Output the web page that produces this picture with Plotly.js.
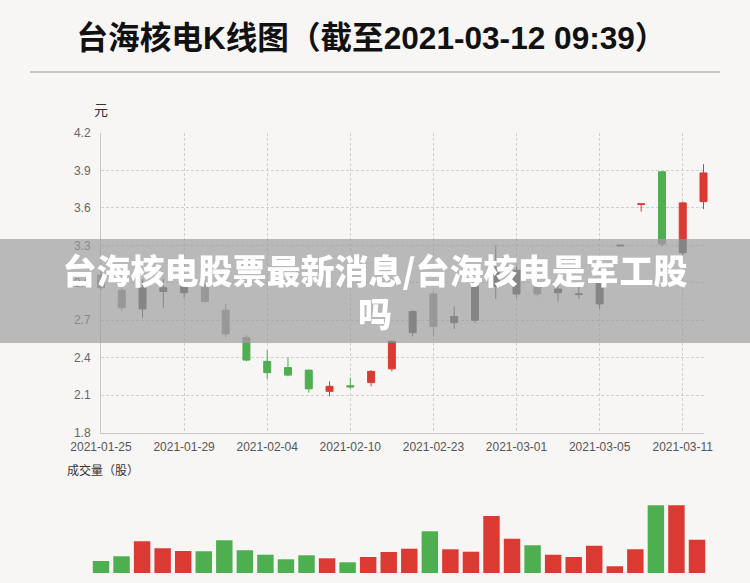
<!DOCTYPE html>
<html>
<head>
<meta charset="utf-8">
<script src="https://cdn.plot.ly/plotly-3.0.1.min.js"></script>
<style>
  html, body { margin:0; padding:0; background:#f8f5f5; }
  #wrap { position:relative; width:750px; height:583px; overflow:hidden; }
  #chart { position:absolute; left:0; top:0; width:750px; height:583px; }
  #band {
    position:absolute; left:0; top:239px; width:750px; height:104px;
    background:rgba(155,155,155,0.667);
    backdrop-filter:grayscale(1); -webkit-backdrop-filter:grayscale(1);
    display:flex; align-items:center; justify-content:center; text-align:center;
    color:#ffffff; font-family:'Noto Sans CJK SC', sans-serif; font-weight:900;
    font-size:34px; line-height:43px;
  }
</style>
</head>
<body>
<div id="wrap">
  <div id="chart"></div>
  <div id="band"></div>
</div>
<script>
// ---- data ----
const dates = ['2021-01-25','2021-01-26','2021-01-27','2021-01-28','2021-01-29',
  '2021-02-01','2021-02-02','2021-02-03','2021-02-04','2021-02-05',
  '2021-02-08','2021-02-09','2021-02-10','2021-02-18','2021-02-19',
  '2021-02-22','2021-02-23','2021-02-24','2021-02-25','2021-02-26',
  '2021-03-01','2021-03-02','2021-03-03','2021-03-04','2021-03-05',
  '2021-03-08','2021-03-09','2021-03-10','2021-03-11','2021-03-12'];
const openP  = [3.06,2.94,2.79,2.93,2.92,2.97,2.78,2.56,2.37,2.32,2.30,2.13,2.175,2.20,2.31,2.60,2.91,2.68,2.70,2.97,2.91,3.00,2.92,2.905,2.83,3.295,3.628,3.89,3.24,3.65];
const highP  = [3.10,2.96,3.03,3.03,3.02,3.02,2.83,2.58,2.46,2.40,2.30,2.21,2.24,2.30,2.53,2.78,2.93,2.81,3.02,3.30,3.13,3.02,2.99,2.98,3.02,3.30,3.632,3.89,3.65,3.95];
const lowP   = [2.94,2.77,2.72,2.80,2.88,2.84,2.56,2.37,2.23,2.25,2.12,2.09,2.15,2.17,2.29,2.57,2.57,2.63,2.68,2.87,2.88,2.89,2.85,2.87,2.79,3.295,3.57,3.29,3.21,3.59];
const closeP = [2.96,2.80,2.96,2.96,2.98,2.85,2.59,2.38,2.28,2.26,2.15,2.17,2.165,2.29,2.53,2.77,2.65,2.73,3.00,3.12,3.10,2.91,2.95,2.91,3.00,3.30,3.632,3.31,3.64,3.88];
const volume = [1200000,1670000,3170000,2470000,2200000,2170000,3270000,2270000,1830000,1370000,
  1770000,1470000,1070000,1600000,2100000,2430000,4170000,2370000,2130000,5700000,
  3430000,2770000,1830000,1600000,2730000,670000,2370000,6770000,6770000,3330000];
const tickIdx = [0,4,8,12,16,20,24,28];
const yTicks = [1.8,2.1,2.4,2.7,3.0,3.3,3.6,3.9,4.2];
const titleText = '台海核电K线图（截至2021-03-12 09:39）';
const yUnitText = '元';
const volLabelText = '成交量（股）';
const bandLines = ['台海核电股票最新消息/台海核电是军工股', '吗'];

// ---- style ----
const RED = '#db3a33', GREEN = '#4daf4f';
const W = 750, H = 583;
const px = v => v / W;
const py = v => 1 - v / H;

const volColors = closeP.map((c, i) => c >= openP[i] ? RED : GREEN);

const traces = [
  { type:'scatter', x:[], y:[], xaxis:'x', yaxis:'y', hoverinfo:'skip', showlegend:false },
  {
    type:'candlestick', x:dates, open:openP, high:highP, low:lowP, close:closeP,
    xaxis:'x2', yaxis:'y2', whiskerwidth:0, hoverinfo:'skip',
    increasing:{ line:{ color:RED, width:1 }, fillcolor:RED },
    decreasing:{ line:{ color:GREEN, width:1 }, fillcolor:GREEN }
  },
  {
    type:'bar', x:dates, y:volume, xaxis:'x3', yaxis:'y3', width:0.8,
    marker:{ color:volColors, line:{ width:0 } }, hoverinfo:'skip'
  }
];

const font = 'Liberation Sans, Noto Sans CJK SC, sans-serif';
const gridDom = [py(432.5), py(133)];

const layout = {
  width:W, height:H, margin:{ l:0, r:0, t:0, b:0 },
  paper_bgcolor:'#f8f5f5', plot_bgcolor:'rgba(0,0,0,0)',
  showlegend:false, boxgap:0.52,
  font:{ family:font },
  title:{
    text:titleText, xref:'container', yref:'container',
    x:px(371.5), xanchor:'center', y:py(38), yanchor:'middle',
    font:{ family:font, size:31.6, color:'#111111', weight:'bold' }
  },
  xaxis:{
    domain:[px(101), px(703.5)], range:[0, dates.length - 1], anchor:'y',
    tickvals:tickIdx, ticktext:tickIdx.map(i => dates[i]),
    showgrid:true, gridcolor:'#d2cfcf', griddash:'3px,2px', gridwidth:1,
    showline:true, linecolor:'#c8c5c5', linewidth:1,
    ticks:'', zeroline:false, fixedrange:true, ticklabelstandoff:3,
    tickfont:{ family:font, size:12, color:'#555555' }
  },
  yaxis:{
    domain:gridDom, range:[1.8, 4.2], anchor:'x',
    tickvals:yTicks, ticktext:yTicks.map(v => v.toFixed(1)),
    showgrid:true, gridcolor:'#d2cfcf', griddash:'3px,2px', gridwidth:1,
    showline:true, linecolor:'#c8c5c5', linewidth:1,
    ticks:'', zeroline:false, fixedrange:true, ticklabelstandoff:7,
    tickfont:{ family:font, size:12, color:'#666666' }
  },
  xaxis2:{
    domain:[px(101 - 10.39), px(703.5 + 10.39)], range:[-0.5, dates.length - 0.5],
    type:'category', anchor:'y2', visible:false, rangeslider:{ visible:false }, fixedrange:true
  },
  yaxis2:{ domain:gridDom, range:[1.8, 4.2], anchor:'x2', visible:false, fixedrange:true },
  xaxis3:{
    domain:[px(101 - 10.28), px(697 + 10.28)], range:[-0.5, dates.length - 0.5],
    type:'category', anchor:'y3', visible:false, fixedrange:true
  },
  yaxis3:{ domain:[py(573), py(493)], range:[0, 8000000], anchor:'x3', visible:false, fixedrange:true },
  shapes:[
    { type:'line', xref:'paper', yref:'paper', x0:px(30), x1:px(720), y0:py(72), y1:py(72),
      line:{ color:'#c9c6c6', width:2 } }
  ],
  annotations:[
    { text:yUnitText, xref:'paper', yref:'paper', x:px(101), y:py(110), xanchor:'center', yanchor:'middle',
      showarrow:false, font:{ family:font, size:14, color:'#333333' } },
    { text:volLabelText, xref:'paper', yref:'paper', x:px(65), y:py(470), xanchor:'left', yanchor:'middle',
      showarrow:false, font:{ family:font, size:12, color:'#333333' } }
  ]
};

Plotly.newPlot('chart', traces, layout, { staticPlot:true, displayModeBar:false });

const band = document.getElementById('band');
band.innerHTML = '';
bandLines.forEach((t, i) => {
  if (i > 0) band.appendChild(document.createElement('br'));
  band.appendChild(document.createTextNode(t));
});
</script>
</body>
</html>
